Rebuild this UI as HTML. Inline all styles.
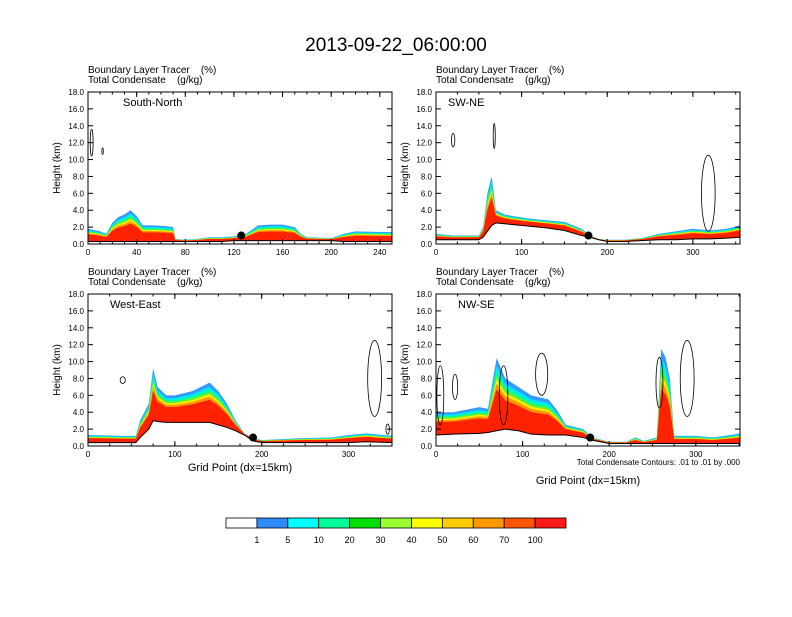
<!DOCTYPE html>
<html><head><meta charset="utf-8"><style>
body{margin:0;background:#fff;font-family:"Liberation Sans",sans-serif}
svg text{font-family:"Liberation Sans",sans-serif;white-space:pre}
</style></head><body>
<svg id="s" width="792" height="612" xmlns="http://www.w3.org/2000/svg">
<text x="396" y="51" font-size="19" text-anchor="middle">2013-09-22_06:00:00</text>
</svg>
<script>
const panelNames=["South-North","SW-NE","West-East","NW-SE"];
const xMax=[250,355,350,351];
const xTickStep=[40,100,100,100];
const yTicks=[0,2,4,6,8,10,12,14,16,18];
const gx0=[0,10,15,20,25,30,35,40,45,55,65,70,72,80,90,100,110,120,130,140,150,160,170,175,180,200,210,220,250];
const top0=[1.8,1.5,1.2,2.5,3.2,3.5,4,3.3,2.2,2.2,2.1,2.0,0.6,0.5,0.6,0.8,0.8,0.9,1.2,2.2,2.3,2.3,2.0,1.2,0.8,0.7,1.2,1.5,1.4];
const terr0=[0.3,0.3,0.3,0.3,0.3,0.3,0.3,0.3,0.3,0.3,0.3,0.3,0.3,0.3,0.3,0.3,0.3,0.4,0.4,0.4,0.4,0.4,0.4,0.4,0.4,0.4,0.3,0.3,0.3];
const gx1=[0,20,40,50,55,60,65,70,80,90,110,130,150,170,180,190,200,220,240,260,280,300,320,340,355];
const top1=[1.2,1.0,1.0,1.0,2,6,8,4,3.5,3.3,3,2.8,2.6,1.8,1.0,0.6,0.5,0.5,0.7,1.2,1.5,1.8,1.6,1.8,2.2];
const terr1=[0.5,0.5,0.5,0.5,0.8,1.5,2.2,2.5,2.4,2.3,2.1,1.9,1.6,1.0,0.8,0.5,0.3,0.3,0.4,0.5,0.5,0.6,0.6,0.7,0.8];
const gx2=[0,40,55,60,70,75,80,90,100,120,130,140,150,160,170,180,190,200,240,280,300,320,350];
const top2=[1.3,1.2,1.2,3,5,9.2,7,6,6,6.5,7,7.5,6.5,5,3,1.5,1.0,0.7,0.9,1.0,1.3,1.5,1.2];
const terr2=[0.4,0.4,0.4,1.0,2.0,3.0,2.9,2.8,2.8,2.8,2.8,2.8,2.5,2.2,1.8,1.3,0.6,0.4,0.4,0.4,0.4,0.5,0.4];
const gx3=[0,20,50,60,70,80,95,110,130,140,150,170,180,200,220,230,240,255,260,265,270,275,300,320,340,351];
const top3=[4,4,4.6,4.4,10.4,8,7,6,5.5,4.2,2.5,2.0,1.0,0.5,0.5,1.0,0.6,1.0,11.5,10.5,8,1.2,1.2,1.0,1.3,1.5];
const terr3=[1.3,1.4,1.5,1.6,1.8,2.0,1.8,1.4,1.3,1.3,1.3,1.0,0.7,0.3,0.3,0.3,0.3,0.3,0.3,0.3,0.3,0.3,0.3,0.3,0.3,0.3];
const gxs=[gx0,gx1,gx2,gx3],tops=[top0,top1,top2,top3],terrs=[terr0,terr1,terr2,terr3];
const dotX=[126,178,190,178];
const dotY=[1.0,1.0,1.0,1.0];
const contours=[
 [[3,12,1.2,1.6],[12,11,0.6,0.4]],
 [[20,12.3,2,0.8],[68,12.8,1.2,1.5],[318,6,8,4.5]],
 [[40,7.8,3,0.4],[330,8,8,4.5],[345,2,2,0.6]],
 [[5,6,4,3.5],[22,7,3,1.5],[78,6,5,3.5],[122,8.5,7,2.5],[258,7.5,4,3],[290,8,8,4.5]]
];
const bandFrac=[1,0.9,0.83,0.77,0.71,0.65,0.57];
const bandCol=["#3399ff","#00e5ff","#00ff99","#66ee33","#ffee00","#ff9900","#ff2200"];
const panels=[[88,92],[436,92],[88,294],[436,294]];
const W=304,H=152;
const NS="http://www.w3.org/2000/svg";
const svg=document.getElementById('s');
function mk(t,a,p){const e=document.createElementNS(NS,t);for(const k in a)e.setAttribute(k,a[k]);(p||svg).appendChild(e);return e;}
panels.forEach(([px,py],i)=>{
 const g=mk('g',{});
 
 
 const xs=v=>px+v/xMax[i]*W, ys=v=>py+H-v/18*H;
 const t1=mk('text',{x:px,y:py-19,'font-size':10},g);t1.textContent="Boundary Layer Tracer    (%)";
 
 const t2=mk('text',{x:px,y:py-9,'font-size':10},g);t2.textContent="Total Condensate    (g/kg)";
 
 const gx=gxs[i],tp=tops[i],tr=terrs[i];
 bandFrac.forEach((f,b)=>{
  let d="M"+xs(gx[0])+","+ys(tr[0]);
  gx.forEach((x,j)=>{d+=" L"+xs(x)+","+ys(tr[j]+(tp[j]-tr[j])*f);});
  for(let j=gx.length-1;j>=0;j--)d+=" L"+xs(gx[j])+","+ys(0);
  const p=mk('path',{d:d+"Z",fill:bandCol[b]},g);
  
 });
 let dt="M"+xs(gx[0])+","+ys(0);gx.forEach((x,j)=>dt+=" L"+xs(x)+","+ys(tr[j]));dt+=" L"+xs(gx[gx.length-1])+","+ys(0)+"Z";
 const tp2=mk('path',{d:dt,fill:"#fff",stroke:"#000","stroke-width":1},g);
 
 contours[i].forEach(c=>{
  const e=mk('ellipse',{cx:xs(c[0]),cy:ys(c[1]),rx:c[2]/xMax[i]*W,ry:c[3]/18*H,fill:"none",stroke:"#000","stroke-width":0.8},g);
  
 });
 const dot=mk('circle',{cx:xs(dotX[i]),cy:ys(dotY[i]),r:4,fill:"#000"},g);
 
 const fr=mk('rect',{x:px,y:py,width:W,height:H,fill:"none",stroke:"#000","stroke-width":1},g);
 
 yTicks.forEach(v=>{
  const y=ys(v);
  mk('line',{x1:px,x2:px+5,y1:y,y2:y,stroke:"#000"},g);mk('line',{x1:px+W,x2:px+W-5,y1:y,y2:y,stroke:"#000"},g);
  const t=mk('text',{x:px-4,y:y+3,'font-size':8,'text-anchor':'end'},g);t.textContent=v.toFixed(1);
  
 });
 for(let v=0;v<=xMax[i];v+=xTickStep[i]){
  const x=xs(v);
  mk('line',{x1:x,x2:x,y1:py+H,y2:py+H-5,stroke:"#000"},g);mk('line',{x1:x,x2:x,y1:py,y2:py+5,stroke:"#000"},g);
  const t=mk('text',{x:x,y:py+H+11,'font-size':8,'text-anchor':'middle'},g);t.textContent=v;
  
 }
 for(let v=0;v<=xMax[i];v+=xTickStep[i]/4){const x=xs(v);mk('line',{x1:x,x2:x,y1:py+H,y2:py+H-2.5,stroke:"#000"},g);mk('line',{x1:x,x2:x,y1:py,y2:py+2.5,stroke:"#000"},g);}
 const yl=mk('text',{x:0,y:0,'font-size':10,'text-anchor':'middle',transform:`translate(${px-28},${py+H/2}) rotate(-90)`},g);yl.textContent="Height (km)";
 
 const nm=mk('text',{x:px+(i==0?35:(i==1?12:22)),y:py+14,'font-size':11},g);nm.textContent=panelNames[i];
 
 if(i>=2){const xl=mk('text',{x:px+W/2,y:i==2?py+H+25:py+H+38,'font-size':11,'text-anchor':'middle'},g);xl.textContent="Grid Point (dx=15km)";
  }
 if(i==3){const c=mk('text',{x:px+W,y:py+H+19,'font-size':8,'text-anchor':'end'},g);c.textContent="Total Condensate Contours: .01 to .01 by .000";
  }
});
const cbLabels=["1","5","10","20","30","40","50","60","70","100"];
const cbCol=["#ffffff","#2f8cff","#00ffff","#00ff99","#00e000","#99ff33","#ffff00","#ffcc00","#ff9900","#ff5500","#ff1a1a"];
const cg=mk('g',{});
const bw=340/cbCol.length;
cbCol.forEach((c,k)=>{const r=mk('rect',{x:226+k*bw,y:518,width:bw,height:10,fill:c,stroke:"#000","stroke-width":0.8},cg);
 });
cbLabels.forEach((l,k)=>{const t=mk('text',{x:226+(k+1)*bw,y:543,'font-size':9,'text-anchor':'middle'},cg);t.textContent=l;
 });
</script>
</body></html>
